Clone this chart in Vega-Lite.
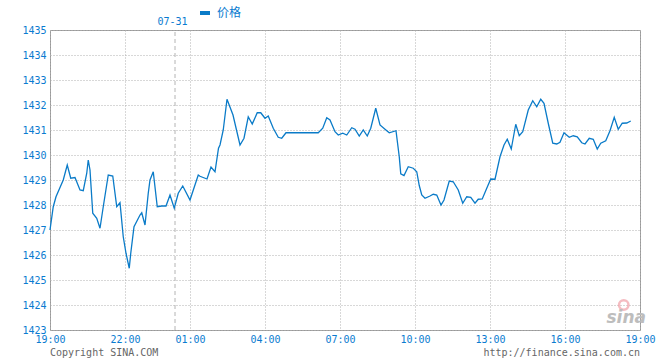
{
  "$schema": "https://vega.github.io/schema/vega-lite/v6.json",
  "width": 590,
  "height": 300,
  "autosize": {"type": "none"},
  "padding": {"left": 50, "top": 30, "right": 20, "bottom": 30},
  "background": "white",
  "config": {
    "font": "DejaVu Sans Mono",
    "view": {"stroke": "#999999", "strokeWidth": 1}
  },
  "datasets": {
    "price": [
      {"h": 0, "v": 1427.0}, {"h": 0.13, "v": 1427.93}, {"h": 0.24, "v": 1428.33}, {"h": 0.53, "v": 1429.0},
      {"h": 0.69, "v": 1429.6}, {"h": 0.83, "v": 1429.07}, {"h": 1.0, "v": 1429.1}, {"h": 1.2, "v": 1428.6},
      {"h": 1.33, "v": 1428.57}, {"h": 1.47, "v": 1429.27}, {"h": 1.53, "v": 1429.8}, {"h": 1.6, "v": 1429.4},
      {"h": 1.71, "v": 1427.67}, {"h": 1.87, "v": 1427.47}, {"h": 2.0, "v": 1427.07}, {"h": 2.13, "v": 1427.93},
      {"h": 2.33, "v": 1429.2}, {"h": 2.51, "v": 1429.16}, {"h": 2.67, "v": 1427.93}, {"h": 2.8, "v": 1428.09},
      {"h": 2.93, "v": 1426.73}, {"h": 3.04, "v": 1426.07}, {"h": 3.17, "v": 1425.47}, {"h": 3.23, "v": 1426.07},
      {"h": 3.36, "v": 1427.13}, {"h": 3.6, "v": 1427.6}, {"h": 3.67, "v": 1427.69}, {"h": 3.8, "v": 1427.2},
      {"h": 3.93, "v": 1428.47}, {"h": 4.0, "v": 1429.0}, {"h": 4.13, "v": 1429.33}, {"h": 4.29, "v": 1427.93},
      {"h": 4.47, "v": 1427.96}, {"h": 4.64, "v": 1427.96}, {"h": 4.8, "v": 1428.4}, {"h": 4.97, "v": 1427.87},
      {"h": 5.13, "v": 1428.47}, {"h": 5.31, "v": 1428.76}, {"h": 5.6, "v": 1428.2}, {"h": 5.93, "v": 1429.2},
      {"h": 6.0, "v": 1429.15}, {"h": 6.28, "v": 1429.04}, {"h": 6.44, "v": 1429.52}, {"h": 6.6, "v": 1429.33},
      {"h": 6.74, "v": 1430.27}, {"h": 6.8, "v": 1430.4}, {"h": 6.93, "v": 1431.0}, {"h": 7.08, "v": 1432.23},
      {"h": 7.32, "v": 1431.6}, {"h": 7.6, "v": 1430.4}, {"h": 7.76, "v": 1430.67}, {"h": 7.93, "v": 1431.53},
      {"h": 8.09, "v": 1431.24}, {"h": 8.29, "v": 1431.69}, {"h": 8.43, "v": 1431.69}, {"h": 8.6, "v": 1431.47},
      {"h": 8.73, "v": 1431.56}, {"h": 8.93, "v": 1431.07}, {"h": 9.13, "v": 1430.71}, {"h": 9.27, "v": 1430.67},
      {"h": 9.44, "v": 1430.89}, {"h": 10.73, "v": 1430.89}, {"h": 10.91, "v": 1431.07}, {"h": 11.07, "v": 1431.49},
      {"h": 11.2, "v": 1431.4}, {"h": 11.4, "v": 1430.93}, {"h": 11.53, "v": 1430.8}, {"h": 11.71, "v": 1430.87},
      {"h": 11.87, "v": 1430.8}, {"h": 12.07, "v": 1431.09}, {"h": 12.2, "v": 1431.03}, {"h": 12.37, "v": 1430.76},
      {"h": 12.53, "v": 1431.0}, {"h": 12.69, "v": 1430.76}, {"h": 12.83, "v": 1431.07}, {"h": 13.03, "v": 1431.87},
      {"h": 13.2, "v": 1431.2}, {"h": 13.4, "v": 1431.03}, {"h": 13.57, "v": 1430.89}, {"h": 13.84, "v": 1430.97},
      {"h": 13.97, "v": 1429.93}, {"h": 14.03, "v": 1429.25}, {"h": 14.16, "v": 1429.18}, {"h": 14.33, "v": 1429.53},
      {"h": 14.53, "v": 1429.47}, {"h": 14.67, "v": 1429.33}, {"h": 14.77, "v": 1428.78}, {"h": 14.87, "v": 1428.4},
      {"h": 15.0, "v": 1428.27}, {"h": 15.2, "v": 1428.36}, {"h": 15.33, "v": 1428.43}, {"h": 15.47, "v": 1428.4},
      {"h": 15.64, "v": 1428.0}, {"h": 15.76, "v": 1428.2}, {"h": 15.97, "v": 1428.96}, {"h": 16.13, "v": 1428.93},
      {"h": 16.33, "v": 1428.6}, {"h": 16.51, "v": 1428.07}, {"h": 16.67, "v": 1428.33}, {"h": 16.83, "v": 1428.31},
      {"h": 17.0, "v": 1428.07}, {"h": 17.13, "v": 1428.23}, {"h": 17.29, "v": 1428.24}, {"h": 17.47, "v": 1428.67},
      {"h": 17.63, "v": 1429.04}, {"h": 17.8, "v": 1429.03}, {"h": 18.0, "v": 1429.93}, {"h": 18.16, "v": 1430.4},
      {"h": 18.29, "v": 1430.63}, {"h": 18.45, "v": 1430.24}, {"h": 18.63, "v": 1431.23}, {"h": 18.77, "v": 1430.77},
      {"h": 18.91, "v": 1430.93}, {"h": 19.13, "v": 1431.8}, {"h": 19.31, "v": 1432.17}, {"h": 19.47, "v": 1431.93},
      {"h": 19.63, "v": 1432.23}, {"h": 19.76, "v": 1432.07}, {"h": 19.93, "v": 1431.27}, {"h": 20.11, "v": 1430.47},
      {"h": 20.27, "v": 1430.44}, {"h": 20.4, "v": 1430.51}, {"h": 20.56, "v": 1430.89}, {"h": 20.77, "v": 1430.71},
      {"h": 20.93, "v": 1430.77}, {"h": 21.09, "v": 1430.73}, {"h": 21.27, "v": 1430.49}, {"h": 21.4, "v": 1430.44},
      {"h": 21.57, "v": 1430.67}, {"h": 21.73, "v": 1430.63}, {"h": 21.89, "v": 1430.24}, {"h": 22.03, "v": 1430.47},
      {"h": 22.23, "v": 1430.57}, {"h": 22.4, "v": 1430.97}, {"h": 22.57, "v": 1431.51}, {"h": 22.73, "v": 1431.03},
      {"h": 22.89, "v": 1431.27}, {"h": 23.07, "v": 1431.28}, {"h": 23.23, "v": 1431.36}
    ]
  },
  "encoding": {
    "x": {
      "field": "h",
      "type": "quantitative",
      "scale": {"domain": [0, 23.6], "nice": false, "zero": false},
      "axis": {
        "title": null,
        "values": [0, 3, 5.6, 8.6, 11.6, 14.6, 17.6, 20.6, 23.6],
        "labelExpr": "['19:00','22:00','01:00','04:00','07:00','10:00','13:00','16:00','19:00'][datum.value < 4 ? round(datum.value / 3) : round((datum.value - 5.6) / 3) + 2]",
        "labelColor": "#0a7bd0",
        "labelFont": "DejaVu Sans Mono",
        "labelFontSize": 10,
        "labelPadding": 4,
        "labelFlush": false,
        "labelOverlap": false,
        "tickSize": 0,
        "domain": false,
        "grid": true,
        "gridColor": "#b0b0b0",
        "gridDash": [1, 2],
        "gridWidth": 1
      }
    },
    "y": {
      "field": "v",
      "type": "quantitative",
      "scale": {"domain": [1423, 1435], "nice": false, "zero": false},
      "axis": {
        "title": null,
        "values": [1423, 1424, 1425, 1426, 1427, 1428, 1429, 1430, 1431, 1432, 1433, 1434, 1435],
        "format": "d",
        "labelColor": "#0a7bd0",
        "labelFont": "DejaVu Sans Mono",
        "labelFontSize": 10,
        "labelPadding": 4,
        "labelFlush": false,
        "labelOverlap": false,
        "tickSize": 0,
        "domain": false,
        "grid": true,
        "gridColor": "#b0b0b0",
        "gridDash": [1, 2],
        "gridWidth": 1
      }
    }
  },
  "layer": [
    {
      "data": {"values": [{"h": 5.0, "v": 1423, "v2": 1435}]},
      "mark": {"type": "rule", "color": "#b4b4b4", "strokeDash": [4, 3], "strokeWidth": 1},
      "encoding": {
        "y2": {"field": "v2"}
      }
    },
    {
      "data": {"name": "price"},
      "mark": {"type": "line", "strokeWidth": 1.3, "interpolate": "linear"},
      "encoding": {
        "color": {
          "datum": "价格",
          "type": "nominal",
          "scale": {"range": ["#0a7bc8"]},
          "legend": {
            "title": null,
            "orient": "none",
            "legendX": 148,
            "legendY": -24,
            "symbolType": "stroke",
            "symbolStrokeWidth": 4,
            "symbolSize": 100,
            "labelFont": "Noto Sans CJK SC",
            "labelFontSize": 12,
            "labelColor": "#0a7bd0",
            "labelOffset": 5
          }
        }
      }
    },
    {
      "data": {"values": [{"h": 4.9, "v": 1435, "t": "07-31"}]},
      "mark": {"type": "text", "font": "DejaVu Sans Mono", "fontSize": 10, "color": "#0a7bd0", "dy": -8, "baseline": "middle", "align": "center"},
      "encoding": {
        "text": {"field": "t"}
      }
    },
    {
      "data": {"values": [{"h": 0, "v": 1423, "t": "Copyright  SINA.COM"}]},
      "mark": {"type": "text", "font": "DejaVu Sans Mono", "fontSize": 10, "color": "#666666", "dy": 23, "baseline": "middle", "align": "left"},
      "encoding": {
        "text": {"field": "t"}
      }
    },
    {
      "data": {"values": [{"h": 23.6, "v": 1423, "t": "http://finance.sina.com.cn"}]},
      "mark": {"type": "text", "font": "DejaVu Sans Mono", "fontSize": 10, "color": "#666666", "dy": 23, "baseline": "middle", "align": "right"},
      "encoding": {
        "text": {"field": "t"}
      }
    },
    {
      "data": {"values": [{"h": 22.95, "v": 1424.0}]},
      "mark": {"type": "point", "shape": "circle", "size": 90, "filled": false, "color": "#f2a0a8", "strokeWidth": 2.5}
    },
    {
      "data": {"values": [{"h": 23.05, "v": 1423.5, "t": "sina"}]},
      "mark": {"type": "text", "font": "DejaVu Sans", "fontSize": 17, "fontStyle": "italic", "fontWeight": "bold", "color": "#bdbdbd", "baseline": "middle", "align": "center"},
      "encoding": {
        "text": {"field": "t"}
      }
    }
  ]
}
